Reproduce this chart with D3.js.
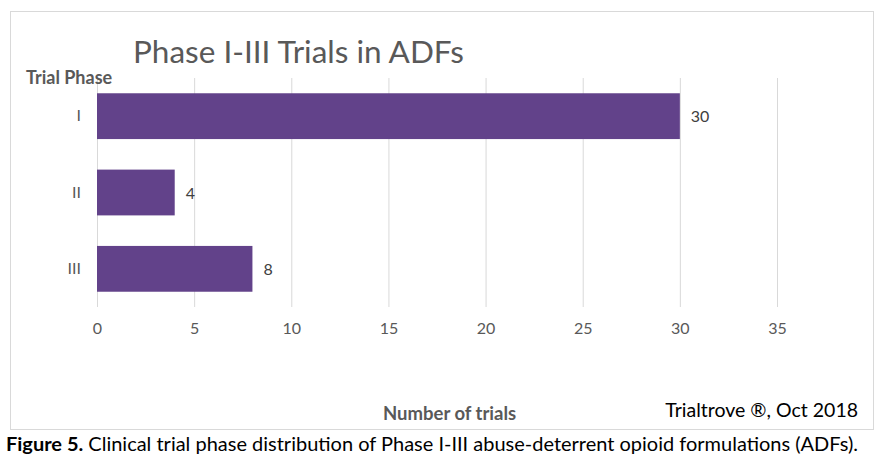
<!DOCTYPE html>
<html>
<head>
<meta charset="utf-8">
<script src="https://cdn.jsdelivr.net/npm/d3@7"></script>
<style>
  body { margin: 0; background: #fff; }
  text { font-family: Lato, "Open Sans", sans-serif; }
</style>
</head>
<body>
<div id="chart"></div>
<script>
// chart data
const phases = ["I", "II", "III"];
const trials = [30, 4, 8];
const xTicks = [0, 5, 10, 15, 20, 25, 30, 35];

const W = 883, H = 472;
const margin = { top: 78, left: 97, right: 106, bottom: 165 };
const width = W - margin.left - margin.right,
  height = H - margin.top - margin.bottom;

const svg = d3.select("#chart").append("svg")
  .attr("width", W)
  .attr("height", H);

// chart frame
svg.append("rect")
  .attr("x", 10.5).attr("y", 11.5)
  .attr("width", 863).attr("height", 418)
  .attr("fill", "none")
  .attr("stroke", "#d9d9d9");

const g = svg.append("g")
  .attr("transform", "translate(" + margin.left + "," + margin.top + ")");

let x = d3.scaleLinear().domain([0, 35]).range([0, width]);
let y = d3.scaleBand().domain(phases).range([0, height]).paddingInner(0.4).paddingOuter(0.2);

// gridlines
g.append("g")
  .attr("transform", "translate(0," + height + ")")
  .call(d3.axisBottom(x).tickValues(xTicks).tickSize(-height).tickFormat(""))
  .call(a => a.select(".domain").remove())
  .call(a => a.selectAll("line").attr("stroke", "#d9d9d9"));

// bars
g.selectAll(".bar")
  .data(phases)
  .enter().append("rect")
  .attr("class", "bar")
  .attr("x", x(0))
  .attr("y", d => y(d))
  .attr("width", (d, i) => x(trials[i]) - x(0))
  .attr("height", y.bandwidth())
  .attr("fill", "#62428a");

// value labels
g.selectAll(".val")
  .data(phases)
  .enter().append("text")
  .attr("x", (d, i) => x(trials[i]) + 11)
  .attr("y", d => y(d) + y.bandwidth() / 2 + 6)
  .attr("font-size", 16)
  .attr("fill", "#404040")
  .text((d, i) => trials[i]);

// x tick labels
g.append("g")
  .attr("transform", "translate(0," + height + ")")
  .call(d3.axisBottom(x).tickValues(xTicks).tickSize(0).tickPadding(16))
  .call(a => a.select(".domain").remove())
  .call(a => a.selectAll("text")
    .attr("font-family", "Lato, 'Open Sans', sans-serif")
    .attr("font-size", 16)
    .attr("fill", "#595959"));

// y category labels
g.append("g")
  .call(d3.axisLeft(y).tickSize(0).tickPadding(16))
  .call(a => a.select(".domain").remove())
  .call(a => a.selectAll("text")
    .attr("font-family", "Lato, 'Open Sans', sans-serif")
    .attr("font-size", 16)
    .attr("fill", "#595959"));

// titles
svg.append("text")
  .attr("x", 133).attr("y", 63)
  .attr("font-size", 31.5)
  .attr("fill", "#595959")
  .text("Phase I-III Trials in ADFs");

svg.append("text")
  .attr("x", 26).attr("y", 84)
  .attr("font-size", 18)
  .attr("font-weight", "bold")
  .attr("fill", "#595959")
  .text("Trial Phase");

svg.append("text")
  .attr("x", 383).attr("y", 420)
  .attr("font-size", 18.5)
  .attr("font-weight", "bold")
  .attr("fill", "#595959")
  .text("Number of trials");

svg.append("text")
  .attr("x", 858).attr("y", 417)
  .attr("text-anchor", "end")
  .attr("font-size", 19.5)
  .attr("fill", "#000")
  .text("Trialtrove \u00ae, Oct 2018");

// caption
const cap = svg.append("text")
  .attr("x", 6).attr("y", 451)
  .attr("font-size", 19)
  .attr("fill", "#000")
  .attr("textLength", 852)
  .attr("lengthAdjust", "spacingAndGlyphs");
cap.append("tspan").attr("font-weight", "bold").text("Figure 5.");
cap.append("tspan").text(" Clinical trial phase distribution of Phase I-III abuse-deterrent opioid formulations (ADFs).");
</script>
</body>
</html>
